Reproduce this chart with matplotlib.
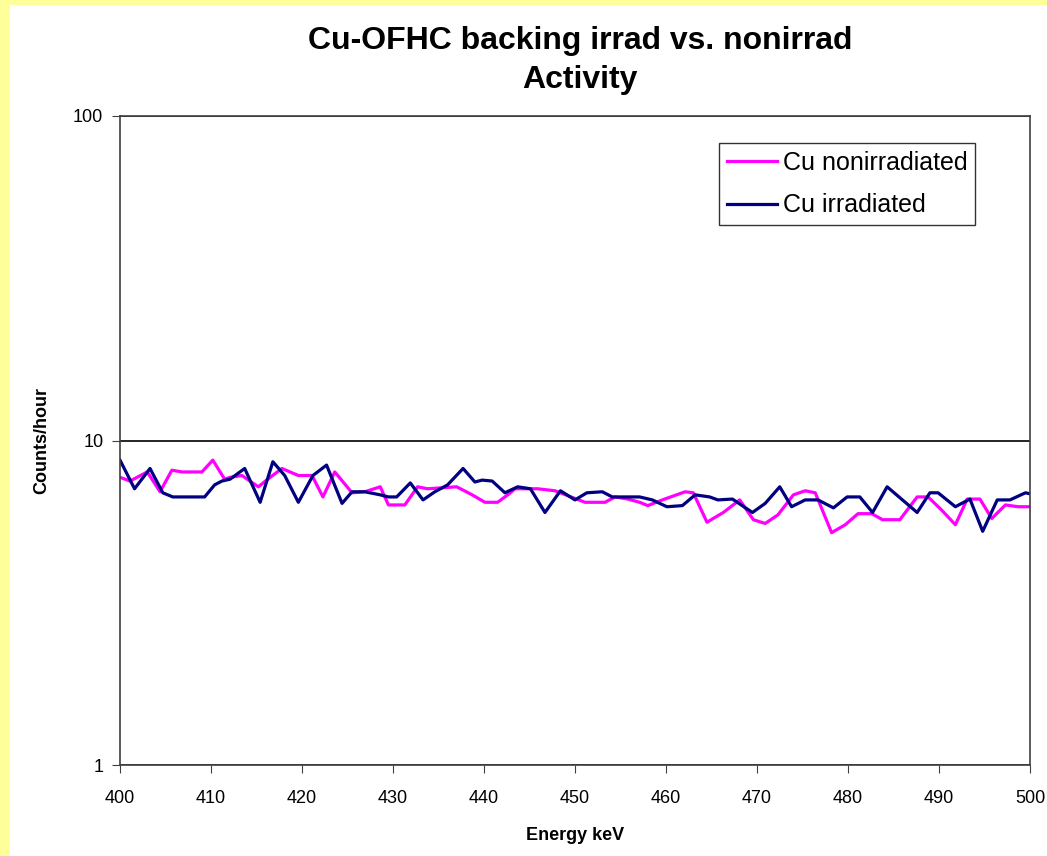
import numpy as np
import matplotlib.pyplot as plt
from matplotlib.patches import Rectangle

# energies (keV) and counts/hour
E_non = [400.0, 401.1, 403.0, 404.4, 405.7, 406.8, 409.0, 410.2, 411.5, 412.1,
         413.4, 415.2, 416.5, 417.8, 419.6, 421.1, 422.3, 423.6, 425.5, 426.9,
         428.6, 429.5, 431.3, 432.7, 433.8, 437.0, 438.7, 440.1, 441.5, 442.9,
         443.4, 445.9, 447.8, 451.1, 453.3, 454.4, 455.8, 457.1, 458.0, 459.6,
         462.1, 463.0, 464.5, 466.3, 468.1, 469.6, 470.9, 472.3, 474.0, 475.3,
         476.4, 478.2, 479.7, 481.1, 482.6, 483.8, 485.7, 486.3, 487.6, 488.8,
         490.3, 491.8, 493.1, 494.5, 495.8, 497.3, 498.7, 500.0]
C_non = [7.7, 7.5, 8.0, 6.95, 8.1, 8.0, 8.0, 8.7, 7.6, 7.7,
         7.8, 7.2, 7.7, 8.2, 7.8, 7.8, 6.7, 8.0, 6.9, 6.95,
         7.2, 6.33, 6.33, 7.2, 7.1, 7.2, 6.8, 6.45, 6.45, 6.9,
         7.1, 7.1, 7.0, 6.45, 6.45, 6.7, 6.6, 6.45, 6.3, 6.56,
         6.95, 6.9, 5.6, 6.0, 6.56, 5.7, 5.55, 5.9, 6.8, 7.0,
         6.9, 5.2, 5.5, 5.95, 5.95, 5.7, 5.7, 6.0, 6.7, 6.7,
         6.1, 5.5, 6.6, 6.6, 5.75, 6.33, 6.25, 6.25]

E_irr = [400.0, 401.6, 403.3, 404.7, 405.8, 409.3, 410.4, 411.2, 412.1, 413.7,
         415.4, 416.8, 418.1, 419.6, 421.2, 422.7, 424.4, 425.5, 426.9, 428.6,
         429.5, 430.4, 431.9, 433.3, 434.6, 436.0, 437.7, 439.0, 439.8, 440.9,
         442.3, 443.7, 445.1, 446.7, 448.4, 450.0, 451.3, 453.0, 454.1, 457.1,
         458.5, 460.1, 461.8, 463.2, 464.8, 465.7, 467.3, 469.5, 470.9, 472.5,
         473.8, 475.3, 476.7, 478.4, 479.9, 481.3, 482.7, 484.3, 487.6, 489.0,
         489.9, 491.8, 493.4, 494.8, 496.4, 497.8, 499.5, 500.0]
C_irr = [8.7, 7.1, 8.2, 6.9, 6.7, 6.7, 7.3, 7.5, 7.6, 8.2,
         6.45, 8.6, 7.8, 6.45, 7.8, 8.4, 6.4, 6.95, 6.95, 6.8,
         6.7, 6.7, 7.4, 6.56, 6.95, 7.3, 8.2, 7.45, 7.55, 7.5,
         6.9, 7.2, 7.1, 6.0, 7.0, 6.56, 6.9, 6.95, 6.7, 6.7,
         6.56, 6.25, 6.3, 6.8, 6.7, 6.56, 6.6, 6.0, 6.4, 7.2,
         6.25, 6.56, 6.56, 6.2, 6.7, 6.7, 6.0, 7.2, 6.0, 6.9,
         6.9, 6.25, 6.6, 5.25, 6.56, 6.56, 6.9, 6.85]

plt.rcParams['font.family'] = ['Liberation Sans', 'DejaVu Sans']

fig = plt.figure(figsize=(10.47, 8.56), dpi=100)
fig.patch.set_facecolor('#FFFF99')
fig.patches.append(Rectangle((10 / 1047, 0), 1, 851 / 856, transform=fig.transFigure,
                             facecolor='white', edgecolor='none', zorder=-1))

ax = fig.add_axes([120 / 1047, 1 - 765 / 856, 910 / 1047, 649 / 856])
ax.plot(E_non, C_non, color='#FF00FF', lw=2.3, label='Cu nonirradiated')
ax.plot(E_irr, C_irr, color='#000080', lw=2.3, label='Cu irradiated')

ax.set_yscale('log')
ax.set_xlim(400, 500)
ax.set_ylim(1, 100)
ax.set_xticks(np.arange(400, 501, 10))
ax.set_yticks([1, 10, 100])
ax.set_yticklabels(['1', '10', '100'])
ax.minorticks_off()
ax.yaxis.grid(True, color='black', lw=1.2)
ax.tick_params(labelsize=13, direction='out', length=6, color='#404040')
ax.tick_params(axis='x', pad=12)
ax.tick_params(axis='y', pad=6)
for s in ax.spines.values():
    s.set_color('#404040')
    s.set_linewidth(1.2)

ax.set_xlabel('Energy keV', fontsize=13, fontweight='bold')
ax.xaxis.set_label_coords(0.5, -(835 - 765) / 649, transform=ax.transAxes)
ax.xaxis.label.set_va('center')
ax.set_ylabel('Counts/hour', fontsize=13, fontweight='bold')
ax.yaxis.set_label_coords(-(120 - 42) / 910, 0.5, transform=ax.transAxes)
ax.yaxis.label.set_va('center')

fig.text(580 / 1047, 1 - 41 / 856, 'Cu-OFHC backing irrad vs. nonirrad', fontsize=23,
         fontweight='bold', ha='center', va='center')
fig.text(580 / 1047, 1 - 80 / 856, 'Activity', fontsize=23,
         fontweight='bold', ha='center', va='center')

leg = ax.legend(loc='upper right', bbox_to_anchor=(975 / 1047, 1 - 143 / 856),
                bbox_transform=fig.transFigure, fontsize=18, frameon=True,
                fancybox=False, edgecolor='black', handlelength=2.0,
                handletextpad=0.25, borderpad=0.3, labelspacing=0.75,
                borderaxespad=0)
leg.get_frame().set_linewidth(1.0)

fig.savefig('out.png', dpi=100, facecolor=fig.get_facecolor())
